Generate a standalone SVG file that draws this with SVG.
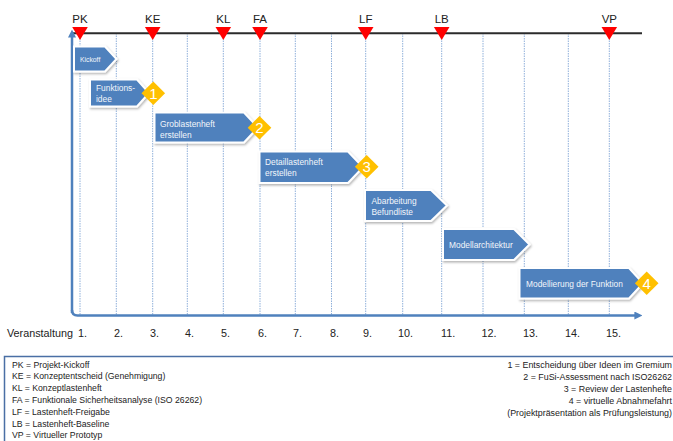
<svg xmlns="http://www.w3.org/2000/svg" width="673" height="441" viewBox="0 0 673 441">
<style>
.grid{stroke:#8FB0DA;stroke-width:1;stroke-dasharray:1.5,1}
.ms{fill:#FF0000}
.mslbl{font-family:"Liberation Sans",Arial,sans-serif;font-size:11.5px;fill:#222;text-anchor:middle}
.box{fill:#4F81BD;stroke:#FFFFFF;stroke-width:2;filter:url(#sh)}
.bt{font-family:"Liberation Sans",Arial,sans-serif;font-size:8.4px;fill:#F2F6FB}
.dia{fill:#FFC000}
.dt{font-family:"Liberation Sans",Arial,sans-serif;font-size:15px;fill:#FFFFFF;text-anchor:middle}
.lbl{font-family:"Liberation Sans",Arial,sans-serif;font-size:10.8px;fill:#222}
.lg{font-family:"Liberation Sans",Arial,sans-serif;font-size:8.7px;fill:#222}
.lgr{font-family:"Liberation Sans",Arial,sans-serif;font-size:8.9px;fill:#222;text-anchor:end}
.axis{fill:none;stroke:#4F81BD;stroke-width:2.5}
</style>
<defs>
<filter id="sh" x="-20%" y="-30%" width="140%" height="170%">
<feDropShadow dx="1" dy="1.5" stdDeviation="1.2" flood-color="#000" flood-opacity="0.3"/>
</filter>
<marker id="ah" viewBox="0 0 10 10" refX="2" refY="5" markerWidth="3.2" markerHeight="3.2" orient="auto">
<path d="M0,0 L10,5 L0,10 z" fill="#4F81BD"/>
</marker>
</defs>
<rect width="673" height="441" fill="#FFFFFF"/>

<g id="grid">
<line class="grid" x1="80" y1="33" x2="80" y2="315"/>
<line class="grid" x1="116.3" y1="33" x2="116.3" y2="315"/>
<line class="grid" x1="152.7" y1="33" x2="152.7" y2="315"/>
<line class="grid" x1="187.3" y1="33" x2="187.3" y2="315"/>
<line class="grid" x1="223.3" y1="33" x2="223.3" y2="315"/>
<line class="grid" x1="260" y1="33" x2="260" y2="315"/>
<line class="grid" x1="295.3" y1="33" x2="295.3" y2="315"/>
<line class="grid" x1="331.5" y1="33" x2="331.5" y2="315"/>
<line class="grid" x1="365.7" y1="33" x2="365.7" y2="315"/>
<line class="grid" x1="402.7" y1="33" x2="402.7" y2="315"/>
<line class="grid" x1="441.7" y1="33" x2="441.7" y2="315"/>
<line class="grid" x1="483" y1="33" x2="483" y2="315"/>
<line class="grid" x1="524.3" y1="33" x2="524.3" y2="315"/>
<line class="grid" x1="568.3" y1="33" x2="568.3" y2="315"/>
<line class="grid" x1="609.3" y1="33" x2="609.3" y2="315"/>
</g>

<g id="connectors">
<line x1="72" y1="33.3" x2="642" y2="33.3" stroke="#2B2B2B" stroke-width="2"/>
<path class="axis" d="M72,313 V36" marker-end="url(#ah)"/>
<path class="axis" d="M72,310 Q72,315.5 77.5,315.5 H636" marker-end="url(#ah)"/>
</g>

<g id="milestones">
<g id="ms-PK"><polygon class="ms" points="72.2,27 87.8,27 80,40"/><text class="mslbl" x="80" y="23">PK</text></g>
<g id="ms-KE"><polygon class="ms" points="144.9,27 160.5,27 152.7,40"/><text class="mslbl" x="152.7" y="23">KE</text></g>
<g id="ms-KL"><polygon class="ms" points="215.5,27 231.1,27 223.3,40"/><text class="mslbl" x="223.3" y="23">KL</text></g>
<g id="ms-FA"><polygon class="ms" points="252.2,27 267.8,27 260,40"/><text class="mslbl" x="260" y="23">FA</text></g>
<g id="ms-LF"><polygon class="ms" points="357.9,27 373.5,27 365.7,40"/><text class="mslbl" x="365.7" y="23">LF</text></g>
<g id="ms-LB"><polygon class="ms" points="433.9,27 449.5,27 441.7,40"/><text class="mslbl" x="441.7" y="23">LB</text></g>
<g id="ms-VP"><polygon class="ms" points="601.5,27 617.1,27 609.3,40"/><text class="mslbl" x="609.3" y="23">VP</text></g>
</g>

<g id="task-kickoff">
<polygon class="box" points="74,46.5 105,46.5 116.5,59 105,71.5 74,71.5"/>
<text class="bt" x="80" y="61.5" style="font-size:6.8px">Kickoff</text>
</g>
<g id="task-funktionsidee">
<polygon class="box" points="90,79.5 137,79.5 149,93 137,106.5 90,106.5"/>
<text class="bt" x="96" y="91">Funktions-</text>
<text class="bt" x="96" y="101.5">idee</text>
</g>
<g id="task-groblastenheft">
<polygon class="box" points="154.5,112.5 244,112.5 258,127.5 244,142.5 154.5,142.5"/>
<text class="bt" x="160" y="126.5">Groblastenheft</text>
<text class="bt" x="160" y="137.5">erstellen</text>
</g>
<g id="task-detaillastenheft">
<polygon class="box" points="259.5,151.5 348,151.5 363,167.3 348,183 259.5,183"/>
<text class="bt" x="265" y="165">Detaillastenheft</text>
<text class="bt" x="265" y="175.5">erstellen</text>
</g>
<g id="task-abarbeitung">
<polygon class="box" points="365,190 431,190 447,205.5 431,221 365,221"/>
<text class="bt" x="371.5" y="204">Abarbeitung</text>
<text class="bt" x="371.5" y="214.5">Befundliste</text>
</g>
<g id="task-modellarchitektur">
<polygon class="box" points="443,229 514,229 529.5,244.5 514,260 443,260"/>
<text class="bt" x="449" y="248">Modellarchitektur</text>
</g>
<g id="task-modellierung">
<polygon class="box" points="519.5,268 629,268 643,283.3 629,298.5 519.5,298.5"/>
<text class="bt" x="526" y="287">Modellierung der Funktion</text>
</g>

<g id="gate-1"><polygon class="dia" points="153.3,81.5 165.1,93.3 153.3,105.1 141.5,93.3"/><text class="dt" x="153.3" y="98.6">1</text></g>
<g id="gate-2"><polygon class="dia" points="259.5,115.9 271.3,127.7 259.5,139.5 247.7,127.7"/><text class="dt" x="259.5" y="133">2</text></g>
<g id="gate-3"><polygon class="dia" points="366.7,154.9 378.5,166.7 366.7,178.5 354.9,166.7"/><text class="dt" x="366.7" y="172">3</text></g>
<g id="gate-4"><polygon class="dia" points="646.7,271.5 658.5,283.3 646.7,295.1 634.9,283.3"/><text class="dt" x="646.7" y="288.6">4</text></g>

<g id="veranstaltung">
<text class="lbl" x="7" y="337">Veranstaltung</text>
<text class="lbl" x="78" y="337">1.</text>
<text class="lbl" x="114" y="337">2.</text>
<text class="lbl" x="150" y="337">3.</text>
<text class="lbl" x="185" y="337">4.</text>
<text class="lbl" x="221" y="337">5.</text>
<text class="lbl" x="258" y="337">6.</text>
<text class="lbl" x="293" y="337">7.</text>
<text class="lbl" x="330" y="337">8.</text>
<text class="lbl" x="363" y="337">9.</text>
<text class="lbl" x="398" y="337">10.</text>
<text class="lbl" x="441" y="337">11.</text>
<text class="lbl" x="481.5" y="337">12.</text>
<text class="lbl" x="523" y="337">13.</text>
<text class="lbl" x="565" y="337">14.</text>
<text class="lbl" x="606" y="337">15.</text>
</g>

<g id="legend">
<rect x="4.5" y="356.5" width="700" height="100" fill="#FFFFFF" stroke="#4A6FA5" stroke-width="1.5"/>
<text class="lg" x="12" y="367.5">PK = Projekt-Kickoff</text>
<text class="lg" x="12" y="379.3">KE = Konzeptentscheid (Genehmigung)</text>
<text class="lg" x="12" y="391.1">KL = Konzeptlastenheft</text>
<text class="lg" x="12" y="402.9">FA = Funktionale Sicherheitsanalyse (ISO 26262)</text>
<text class="lg" x="12" y="414.7">LF = Lastenheft-Freigabe</text>
<text class="lg" x="12" y="426.5">LB = Lastenheft-Baseline</text>
<text class="lg" x="12" y="438.3">VP = Virtueller Prototyp</text>
<text class="lgr" x="672" y="367.5">1 = Entscheidung über Ideen im Gremium</text>
<text class="lgr" x="672" y="379.5">2 = FuSi-Assessment nach ISO26262</text>
<text class="lgr" x="672" y="391.5">3 = Review der Lastenhefte</text>
<text class="lgr" x="672" y="403.5">4 = virtuelle Abnahmefahrt</text>
<text class="lgr" x="672" y="415.5">(Projektpräsentation als Prüfungsleistung)</text>
</g>
</svg>
